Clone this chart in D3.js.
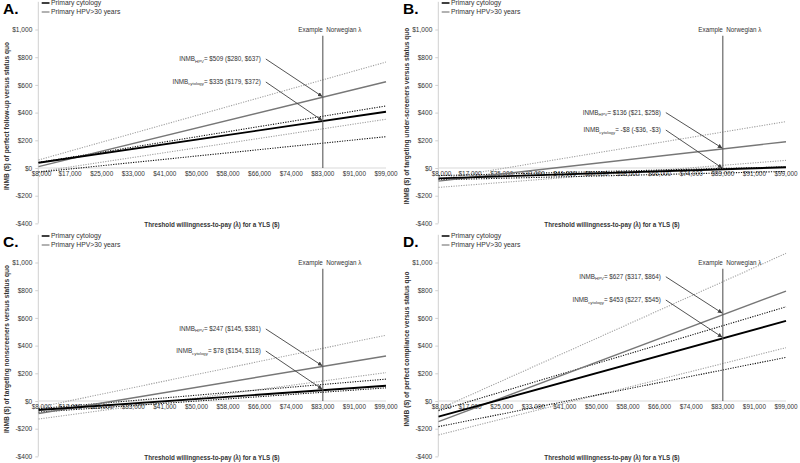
<!DOCTYPE html>
<html><head><meta charset="utf-8">
<script src="https://cdn.jsdelivr.net/npm/d3@7"></script>
<style>
html,body{margin:0;padding:0;background:#fff;}
svg{display:block;font-family:"Liberation Sans",Arial,sans-serif;}
</style></head>
<body><svg id="c" width="800" height="463"></svg>
<script>
const categories = ["$8,000","$17,000","$25,000","$33,000","$41,000","$50,000","$58,000","$66,000","$74,000","$83,000","$91,000","$99,000"];
const yTicks = [-400,-200,0,200,400,600,800,1000];
const panelLetters = ["A.","B.","C.","D."];
const yTitles = [
  "INMB ($) of perfect follow-up versus status quo",
  "INMB ($) of targeting under-screeners versus status quo",
  "INMB ($) of targeting nonscreeners versus status quo",
  "INMB ($) of perfect compliance versus status quo"
];
const xTitle = "Threshold willingness-to-pay (λ) for a YLS ($)";
const seriesNames = ["Primary cytology","Primary HPV>30 years"];
const lambdaCategory = "$83,000";
const lambdaLabel = "Example  Norwegian λ";
// line values at first ($8,000) and last ($99,000) category
const cytology     = [[38,406],[-75,5],[-65,110],[-113,578]];
const cytologyLow  = [[-30,226],[-85,-25],[-80,95],[-185,315]];
const cytologyHigh = [[40,448],[-55,8],[-55,158],[-70,680]];
const hpv          = [[10,623],[-95,190],[-90,325],[-149,794]];
const hpvLow       = [[-27,352],[-140,55],[-130,205],[-245,385]];
const hpvHigh      = [[58,765],[-80,335],[-45,475],[-60,1066]];
const inmbHpv      = [509,136,247,627];
const inmbHpvText  = ["= $509 ($280, $637)","= $136 ($21, $258)","= $247 ($145, $381)","= $627 ($317, $864)"];
const inmbCyto     = [335,-8,78,453];
const inmbCytoText = ["= $335 ($179, $372)","= -$8 (-$36, -$3)","= $78 ($154, $118)","= $453 ($227, $545)"];

// layout (not data)
const offsets = [[0,0],[400,0],[0,233],[400,233]];
const labelYs = [[787,621],[400,274],[520,361],[897,729]];

const svg = d3.select("#c");
const defs = svg.append("defs");
defs.append("marker").attr("id","arr").attr("viewBox","0 0 10 10").attr("refX",10).attr("refY",5)
  .attr("markerWidth",5).attr("markerHeight",5).attr("orient","auto")
  .append("path").attr("d","M0,0L10,5L0,10z").attr("fill","#404040");

offsets.forEach(([ox,oy],i)=>{
  const g = svg.append("g");
  const x = d3.scalePoint().domain(categories).range([ox+38.5, ox+386]);
  const y = d3.scaleLinear().domain([-400,1200]).range([oy+223.4, oy+1.8]);
  const axisX = ox+38.3;

  // y axis
  const ya = g.append("g").attr("transform",`translate(${axisX},0)`)
    .call(d3.axisLeft(y).tickValues(yTicks).tickSize(3).tickPadding(3)
      .tickFormat(v=> (v<0?"-":"")+"$"+d3.format(",")(Math.abs(v))));
  ya.select(".domain").attr("stroke","#d0d0d0").attr("d",`M-0,${y(1200)}V${y(-400)}`);
  ya.selectAll(".tick line").attr("stroke","#d0d0d0");
  ya.selectAll(".tick text").attr("font-size",6.6).attr("fill","#333").attr("font-family","Liberation Sans, Arial, sans-serif");

  // zero line + x labels
  g.append("line").attr("x1",axisX).attr("x2",x(categories[categories.length-1]))
    .attr("y1",y(0)).attr("y2",y(0)).attr("stroke","#d9d9d9").attr("stroke-width",1);
  g.selectAll(".xl").data(categories).enter().append("text")
    .attr("x",d=>x(d)+(d===categories[0]?3:0)).attr("y",y(0)+8).attr("text-anchor","middle")
    .attr("font-size",6.4).attr("fill","#333").text(d=>d);

  const line = d3.line().x(d=>x(d.c)).y(d=>y(d.v));
  const seg = p=>[{c:categories[0],v:p[0]},{c:categories[categories.length-1],v:p[1]}];
  const drawLine=(p,stroke,w,dash)=>{
    g.append("path").attr("d",line(seg(p))).attr("fill","none").attr("stroke",stroke)
      .attr("stroke-width",w).attr("stroke-dasharray",dash||null);
  };
  drawLine(hpvHigh[i],"#a0a0a0",1.1,"1.2,1.3");
  drawLine(hpvLow[i],"#a0a0a0",1.1,"1.2,1.3");
  drawLine(cytologyHigh[i],"#111",1.1,"1.2,1.3");
  drawLine(cytologyLow[i],"#111",1.1,"1.2,1.3");
  drawLine(hpv[i],"#777",1.4);
  drawLine(cytology[i],"#000",1.9);

  // vertical lambda line
  const vx = x(lambdaCategory);
  g.append("line").attr("x1",vx).attr("x2",vx).attr("y1",y(955)).attr("y2",y(0))
    .attr("stroke","#595959").attr("stroke-width",1.1);
  g.append("text").attr("x",vx+7).attr("y",y(993)+2).attr("text-anchor","middle")
    .attr("font-size",6.3).attr("fill","#333").attr("xml:space","preserve").text(lambdaLabel);

  // annotations
  const ann=(sub,txt,ly,val)=>{
    const ty = y(ly);
    const t = g.append("text").attr("x",vx-62).attr("y",ty+2).attr("text-anchor","end")
      .attr("font-size",6.3).attr("fill","#333");
    t.append("tspan").text("INMB");
    t.append("tspan").attr("font-size",4.3).attr("dy",1.5).text(sub);
    t.append("tspan").attr("dy",-1.5).text(txt);
    g.append("line").attr("x1",vx-57).attr("y1",ty).attr("x2",vx-0.5).attr("y2",y(val)-1)
      .attr("stroke","#404040").attr("stroke-width",0.9).attr("marker-end","url(#arr)");
  };
  ann("HPV",inmbHpvText[i],labelYs[i][0],inmbHpv[i]);
  ann("cytology",inmbCytoText[i],labelYs[i][1],inmbCyto[i]);

  // legend
  const lg = g.append("g");
  [["#000",1.5],["#7f7f7f",1.2]].forEach(([c,w],k)=>{
    const ly = oy+3+k*9;
    lg.append("line").attr("x1",ox+41.7).attr("x2",ox+49.5).attr("y1",ly).attr("y2",ly)
      .attr("stroke",c).attr("stroke-width",w);
    lg.append("text").attr("x",ox+51).attr("y",ly+2.3).attr("font-size",6.8).attr("fill","#333")
      .text(seriesNames[k]);
  });

  // panel letter
  g.append("text").attr("x",ox+3).attr("y",oy+14).attr("font-size",15.5).attr("font-weight","bold")
    .attr("fill","#000").text(panelLetters[i]);

  // titles
  g.append("text").attr("transform",`translate(${ox+9},${oy+116}) rotate(-90)`)
    .attr("text-anchor","middle").attr("font-size",6.6).attr("font-weight","bold").attr("fill","#333")
    .text(yTitles[i]);
  g.append("text").attr("x",ox+212).attr("y",oy+227).attr("text-anchor","middle")
    .attr("font-size",6.3).attr("font-weight","bold").attr("fill","#333").text(xTitle);
});
</script></body></html>
